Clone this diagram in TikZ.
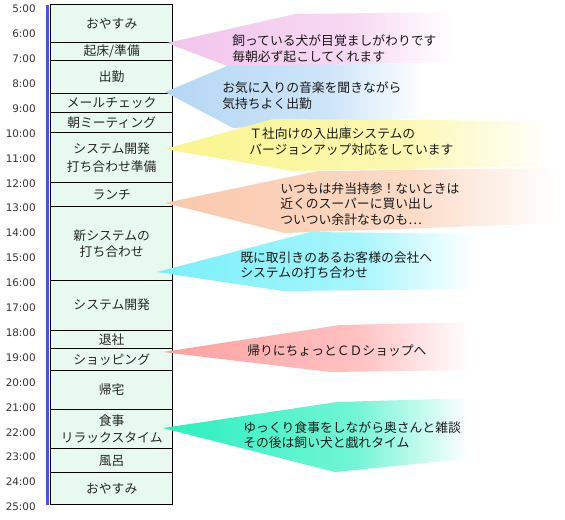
\documentclass[tikz,border=0pt]{standalone}
\usepackage{fontspec}
\usepackage{xcolor}
\usepackage{tikz}
\newfontfamily\jpfont{Noto Sans CJK JP}
\newfontfamily\timefont{DejaVu Sans}
\definecolor{slotbg}{HTML}{E8FAF0}
\definecolor{rail}{RGB}{70,85,225}
\definecolor{hourtx}{HTML}{333333}
\definecolor{bnpink}{RGB}{242,196,236}
\definecolor{bnblue}{RGB}{180,215,245}
\definecolor{bnyellow}{RGB}{250,245,140}
\definecolor{bnpeach}{RGB}{250,200,170}
\definecolor{bncyan}{RGB}{120,240,250}
\definecolor{bnred}{RGB}{255,160,160}
\definecolor{bnteal}{RGB}{40,240,190}
\colorlet{bannercol}{white}
\pgfdeclarehorizontalshading[bannercol]{bannerfade}{100bp}{color(0bp)=(bannercol); color(25bp)=(bannercol); color(56bp)=(bannercol!65!white); color(74bp)=(white); color(100bp)=(white)}

\begin{document}
\begin{tikzpicture}[
    x=0.75pt, y=-0.75pt,
    slot/.style={draw=black, fill=slotbg, line width=0.75pt, minimum width=91.5pt, inner sep=0pt, align=center, text=black!85, font=\jpfont\fontsize{9.6}{13}\selectfont},
    hr/.style={anchor=east, inner sep=0pt, text=hourtx, font=\timefont\fontsize{7.8}{9}\selectfont},
    note/.style={anchor=west, align=left, inner sep=0pt, text=black!90, font=\jpfont\fontsize{9.6}{11.5}\selectfont},
    bn/.style={/utils/exec={\colorlet{bannercol}{#1}}, shading=bannerfade}
  ]
    \useasboundingbox (0,0) rectangle (565,519);
    \foreach \h in {5,...,25}
      \node[hr] (t\h) at (36,{9+(\h-5)*24.9}) {\h:00};
    \draw[rail, line width=1.7pt] (47.5,5) -- (47.5,505);

    \node[slot, minimum height=28pt] (sleepa) at (111.7,23.65) {おやすみ};
    \node[slot, minimum height=13.3pt] (wake) at (111.7,51.15) {起床/準備};
    \node[slot, minimum height=24.75pt] (commute) at (111.7,76.5) {出勤};
    \node[slot, minimum height=14.25pt] (mail) at (111.7,102.5) {メールチェック};
    \node[slot, minimum height=15.75pt] (meeting) at (111.7,122.5) {朝ミーティング};
    \node[slot, minimum height=37pt, font=\jpfont\fontsize{9.6}{13.5}\selectfont] (deva) at (111.7,157.65) {システム開発\\打ち合わせ準備};
    \node[slot, minimum height=18.3pt] (lunch) at (111.7,194.5) {ランチ};
    \node[slot, minimum height=55pt, font=\jpfont\fontsize{9.6}{12}\selectfont] (newsys) at (111.7,243.35) {新システムの\\打ち合わせ};
    \node[slot, minimum height=37.5pt] (devb) at (111.7,305) {システム開発};
    \node[slot, minimum height=13.7pt] (leave) at (111.7,339.15) {退社};
    \node[slot, minimum height=16.8pt] (shop) at (111.7,359.5) {ショッピング};
    \node[slot, minimum height=28.95pt] (home) at (111.7,390) {帰宅};
    \node[slot, minimum height=29.25pt] (dinner) at (111.7,428.8) {食事\\リラックスタイム};
    \node[slot, minimum height=18.3pt] (bath) at (111.7,460.5) {風呂};
    \node[slot, minimum height=23.5pt] (sleepb) at (111.7,488.35) {おやすみ};

    \shade[bn=bnpink] (167,43) -- (295,14) -- (460,12) -- (460,62) -- (230,67) -- cycle;
    \shade[bn=bnblue] (165,92) -- (227,66) -- (430,63) -- (430,118) -- (233,128) -- cycle;
    \shade[bn=bnyellow] (165,149) -- (273,119) -- (558,121) -- (558,166) -- (293,171) -- cycle;
    \shade[bn=bnpeach] (165,203) -- (318,171) -- (563,168) -- (563,223) -- (285,233) -- cycle;
    \shade[bn=bncyan] (157,272) -- (310,232) -- (482,234) -- (482,289) -- (283,291) -- cycle;
    \shade[bn=bnred] (163,352) -- (340,325) -- (477,322) -- (477,370) -- (330,372) -- cycle;
    \shade[bn=bnteal] (163,428) -- (337,402) -- (475,398) -- (475,458) -- (335,472) -- cycle;

    \node[note] (dog) at (232,48.5) {飼っている犬が目覚ましがわりです\\毎朝必ず起こしてくれます};
    \node[note] (music) at (222,95.5) {お気に入りの音楽を聞きながら\\気持ちよく出勤};
    \node[note] (upgrade) at (249,141.5) {Ｔ社向けの入出庫システムの\\バージョンアップ対応をしています};
    \node[note] (bento) at (280,204) {いつもは弁当持参！ないときは\\近くのスーパーに買い出し\\ついつい余計なものも…};
    \node[note] (client) at (240,265) {既に取引きのあるお客様の会社へ\\システムの打ち合わせ};
    \node[note] (cdshop) at (247,350.7) {帰りにちょっとＣＤショップへ};
    \node[note] (relax) at (243,435) {ゆっくり食事をしながら奥さんと雑談\\その後は飼い犬と戯れタイム};
  \end{tikzpicture}
\end{document}
